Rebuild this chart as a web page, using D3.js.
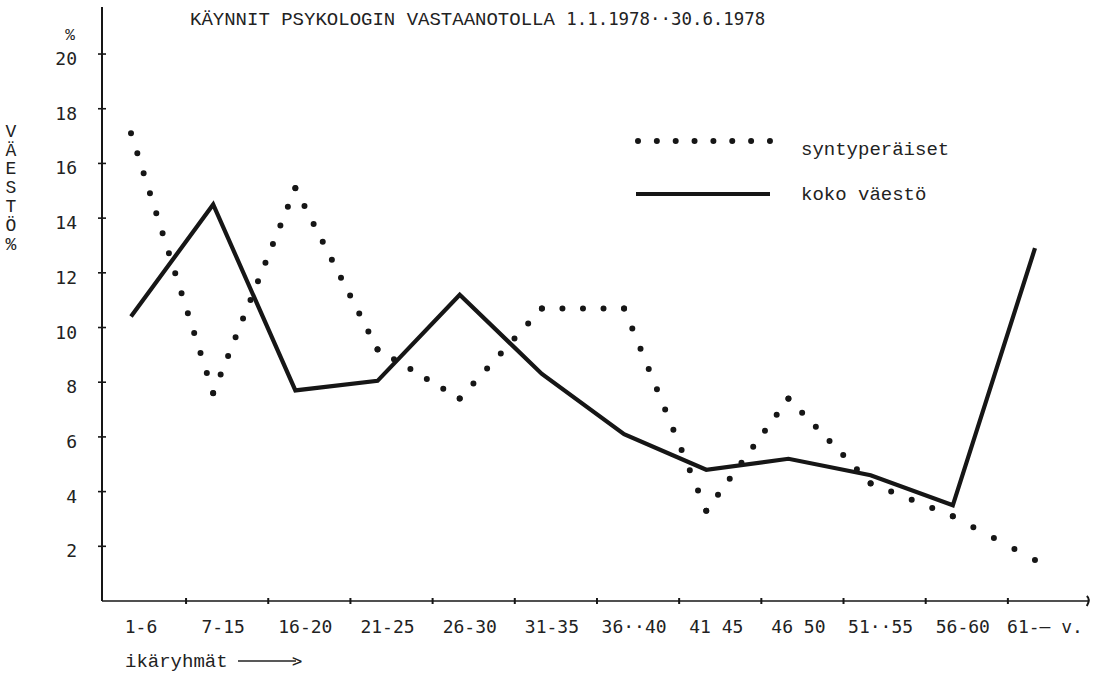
<!DOCTYPE html>
<html>
<head>
<meta charset="utf-8">
<script src="https://cdn.jsdelivr.net/npm/d3@7/dist/d3.min.js"></script>
<style>
  html, body { margin: 0; padding: 0; background: #fff; }
  svg { display: block; }
</style>
</head>
<body>
<svg id="chart" width="1112" height="677"></svg>
<script>
// ---- data ----
const categories = ["1-6", "7-15", "16-20", "21-25", "26-30", "31-35", "36··40", "41 45", "46 50", "51··55", "56-60", "61-— v."];
const syntyperaiset = [17.1, 7.6, 15.1, 9.2, 7.4, 10.7, 10.7, 3.3, 7.4, 4.3, 3.1, 1.5];
const kokoVaesto = [10.4, 14.5, 7.7, 8.05, 11.2, 8.3, 6.1, 4.8, 5.2, 4.6, 3.5, 12.9];
const yTicks = [2, 4, 6, 8, 10, 12, 14, 16, 18, 20];
const titleText = "KÄYNNIT PSYKOLOGIN VASTAANOTOLLA";
const titleDate = "1.1.1978··30.6.1978";
const yAxisLetters = ["V", "Ä", "E", "S", "T", "Ö", "%"];
const legendLabels = ["syntyperäiset", "koko väestö"];
const xAxisTitle = "ikäryhmät";

// ---- layout ----
const svg = d3.select("#chart");
const typeFont = "'Liberation Mono', 'Courier New', monospace";
const numFont = "'DejaVu Sans Mono', monospace";
const ink = "#161616";

const x = d3.scalePoint().domain(categories).range([131, 1035]);
const y = d3.scaleLinear().domain([0, 21.72]).range([601, 7]);
const step = x.step();

// axes
svg.append("line").attr("x1", 102).attr("x2", 102).attr("y1", y(0)).attr("y2", y(21.72))
  .attr("stroke", ink).attr("stroke-width", 2);
svg.append("line").attr("x1", 102).attr("x2", x(categories[categories.length - 1]) + step * 0.66).attr("y1", y(0)).attr("y2", y(0))
  .attr("stroke", ink).attr("stroke-width", 1.6);

// y ticks
svg.selectAll(".ytick").data(yTicks).enter().append("line")
  .attr("x1", 98).attr("x2", 106).attr("y1", d => y(d)).attr("y2", d => y(d))
  .attr("stroke", ink).attr("stroke-width", 1.6);
svg.selectAll(".ylab").data(yTicks).enter().append("text")
  .attr("x", 77).attr("y", d => y(d) + 6)
  .attr("text-anchor", "end").attr("dominant-baseline", "middle")
  .attr("font-family", numFont).attr("font-size", 18).attr("fill", "#222")
  .text(d => d);
svg.append("text").attr("x", 70).attr("y", y(20) - 18)
  .attr("text-anchor", "middle").attr("dominant-baseline", "middle")
  .attr("font-family", typeFont).attr("font-size", 16).attr("fill", "#222").text("%");

// x ticks (between categories, as typed on the original)
svg.selectAll(".xtick").data(categories.slice(0, -1)).enter().append("line")
  .attr("x1", d => x(d) + step * 0.67).attr("x2", d => x(d) + step * 0.67)
  .attr("y1", y(0) - 3).attr("y2", y(0) + 3)
  .attr("stroke", ink).attr("stroke-width", 2);
// axis end mark
svg.append("path")
  .attr("d", `M${x(categories[categories.length - 1]) + step * 0.63},${y(0) - 5} q4,3 0,10`)
  .attr("fill", "none").attr("stroke", ink).attr("stroke-width", 2);

svg.selectAll(".xlab").data(categories).enter().append("text")
  .attr("x", d => x(d) + 10).attr("y", 633)
  .attr("text-anchor", "middle")
  .attr("font-family", numFont).attr("font-size", 18).attr("fill", "#222")
  .text(d => d);

// x axis title with arrow
svg.append("text").attr("x", 125).attr("y", 667)
  .attr("font-family", typeFont).attr("font-size", 19).attr("fill", "#222").text(xAxisTitle);
svg.append("line").attr("x1", 238).attr("x2", 296).attr("y1", 661).attr("y2", 661)
  .attr("stroke", "#222").attr("stroke-width", 1.4);
svg.append("text").attr("x", 292).attr("y", 667)
  .attr("font-family", numFont).attr("font-size", 17).attr("fill", "#222").text(">");

// y axis vertical letters
svg.selectAll(".yletter").data(yAxisLetters).enter().append("text")
  .attr("x", 11).attr("y", (d, i) => 132 + i * 18.8)
  .attr("text-anchor", "middle").attr("dominant-baseline", "middle")
  .attr("font-family", typeFont).attr("font-size", 18).attr("fill", "#222")
  .text(d => d);

// title
const title = svg.append("text").attr("x", 190).attr("y", 25)
  .attr("font-family", typeFont).attr("font-size", 19).attr("fill", "#222");
title.append("tspan").text(titleText + " ");
title.append("tspan").attr("font-family", numFont).attr("font-size", 17.4).text(titleDate);

// dotted series: each segment gets its own evenly spaced dots that land on the vertices
const pts = syntyperaiset.map((v, i) => [x(categories[i]), y(v)]);
const segs = d3.pairs(pts);
svg.selectAll(".dseg").data(segs).enter().append("path")
  .attr("d", d => `M${d[0][0]},${d[0][1]}L${d[1][0]},${d[1][1]}`)
  .attr("fill", "none").attr("stroke", ink)
  .attr("stroke-width", 6).attr("stroke-linecap", "round")
  .attr("stroke-dasharray", d => {
    const len = Math.hypot(d[1][0] - d[0][0], d[1][1] - d[0][1]);
    const n = Math.max(1, Math.round(len / 21));
    return `0 ${len / n - 0.01}`;
  });

// solid series
const line = d3.line().x((d, i) => x(categories[i])).y(d => y(d));
svg.append("path").datum(kokoVaesto)
  .attr("d", line)
  .attr("fill", "none").attr("stroke", ink)
  .attr("stroke-width", 4.2).attr("stroke-linejoin", "miter");

// legend
svg.append("line").attr("x1", 638).attr("x2", 770.5).attr("y1", 141).attr("y2", 141)
  .attr("stroke", ink).attr("stroke-width", 6).attr("stroke-linecap", "round")
  .attr("stroke-dasharray", "0 18.85");
svg.append("text").attr("x", 801).attr("y", 155)
  .attr("font-family", typeFont).attr("font-size", 19).attr("fill", "#222").text(legendLabels[0]);
svg.append("line").attr("x1", 636).attr("x2", 770).attr("y1", 194).attr("y2", 194)
  .attr("stroke", ink).attr("stroke-width", 4.2);
svg.append("text").attr("x", 801).attr("y", 200)
  .attr("font-family", typeFont).attr("font-size", 19).attr("fill", "#222").text(legendLabels[1]);
</script>
</body>
</html>
